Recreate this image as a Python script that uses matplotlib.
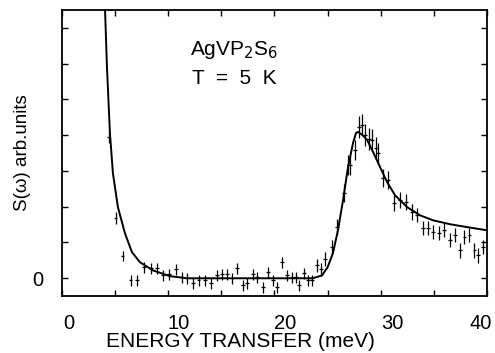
import matplotlib
matplotlib.use("Agg")
import matplotlib.pyplot as plt
import matplotlib.transforms as mtransforms
import numpy as np

plt.rcParams['font.family'] = ['Liberation Sans', 'DejaVu Sans']

# measured data points (energy meV, S(w) arb. units)
energy = [4.42, 5.08, 5.74, 6.49, 7.06, 7.72, 8.38, 8.94, 9.51, 10.07,
          10.73, 11.29, 11.76, 12.33, 12.89, 13.46, 14.02, 14.59, 15.06, 15.53,
          16.0, 16.47, 17.04, 17.41, 17.98, 18.35, 18.92, 19.39, 19.86, 20.24,
          20.71, 21.18, 21.65, 22.02, 22.31, 22.78, 23.15, 23.53, 24.0, 24.38,
          24.75, 25.41, 25.88, 26.54, 26.95, 27.15, 27.58, 27.95, 28.24, 28.52,
          28.89, 29.18, 29.55, 29.74, 30.21, 30.68, 31.25, 31.81, 32.38, 32.94,
          33.41, 33.98, 34.45, 34.92, 35.48, 35.95, 36.52, 36.99, 37.46, 37.84,
          38.31, 38.78, 39.15, 39.62]
intensity = [3.95, 1.68, 0.62, -0.06, -0.06, 0.31, 0.28, 0.28, 0.08, 0.11,
             0.25, 0.03, 0.0, -0.14, -0.06, -0.06, -0.14, 0.08, 0.11, 0.11,
             0.0, 0.28, -0.20, -0.14, 0.11, 0.03, -0.25, 0.17, -0.06, -0.25,
             0.45, 0.08, 0.03, 0.03, -0.20, 0.14, -0.06, -0.06, 0.36, 0.25,
             0.53, 0.87, 1.43, 2.38, 3.17, 3.17, 3.59, 4.23, 4.29, 4.01,
             3.89, 3.87, 3.64, 3.50, 2.80, 2.74, 2.10, 2.18, 2.13, 1.85,
             1.76, 1.40, 1.40, 1.29, 1.26, 1.34, 1.06, 1.20, 0.78, 1.15,
             1.20, 0.78, 0.64, 0.87]
yerr = [0.17, 0.17, 0.15, 0.15, 0.15, 0.15, 0.15, 0.15, 0.15, 0.15,
        0.15, 0.15, 0.15, 0.15, 0.15, 0.15, 0.15, 0.15, 0.15, 0.15,
        0.15, 0.15, 0.15, 0.15, 0.15, 0.15, 0.15, 0.15, 0.15, 0.15,
        0.15, 0.15, 0.15, 0.15, 0.15, 0.15, 0.15, 0.15, 0.18, 0.18,
        0.2, 0.2, 0.22, 0.25, 0.28, 0.28, 0.28, 0.3, 0.3, 0.3,
        0.3, 0.3, 0.3, 0.28, 0.25, 0.25, 0.22, 0.22, 0.22, 0.22,
        0.2, 0.2, 0.2, 0.2, 0.2, 0.2, 0.2, 0.2, 0.2, 0.2,
        0.2, 0.2, 0.2, 0.2]

# fitted curve
fit_e = [4.05, 4.24, 4.52, 4.8, 5.27, 5.93, 6.59, 7.34, 8.57, 10.16,
         11.76, 23.6, 24.47, 25.0, 25.5, 25.97, 26.45, 26.92, 27.39, 27.67,
         27.86, 28.24, 28.71, 29.27, 29.93, 30.59, 31.34, 32.47, 33.69, 34.92,
         36.52, 38.12, 40.0]
fit_s = [7.6, 5.91, 4.06, 2.94, 1.99, 1.26, 0.73, 0.45, 0.22, 0.06,
         0.0, 0.0, 0.08, 0.31, 0.70, 1.34, 2.18, 3.11, 3.78, 4.06,
         4.09, 4.01, 3.87, 3.53, 3.11, 2.69, 2.32, 1.99, 1.76, 1.62,
         1.51, 1.43, 1.34]

xticks_major = [0, 10, 20, 30, 40]
xticks_minor = [5, 15, 25, 35]
yticks = [0, 1, 2, 3, 4, 5, 6, 7]

fig = plt.figure(figsize=(4.95, 3.53), dpi=100)
ax = fig.add_axes([0.125, 0.161, 0.859, 0.811])

ax.plot(fit_e, fit_s, color='black', lw=1.4, zorder=3)
ax.errorbar(energy, intensity, yerr=yerr, xerr=0.15, fmt='none',
            ecolor='black', elinewidth=0.9, capsize=0, zorder=2)

ax.set_xlim(0, 40)
ax.set_ylim(-0.5, 7.5)
ax.set_xticks(xticks_major)
ax.set_xticks(xticks_minor, minor=True)
ax.set_yticks(yticks)
ax.set_yticklabels(['0'] + [''] * (len(yticks) - 1))

ax.tick_params(which='both', direction='in', top=True, right=True,
               length=4, width=1, labelsize=14.5, pad=13)
for s in ax.spines.values():
    s.set_linewidth(1.3)

# scanned original has tick labels slightly offset from their ticks
offsets_px = [7, 10, 11, 12, -6]
for lab, dx in zip(ax.get_xticklabels(), offsets_px):
    lab.set_transform(lab.get_transform() +
                      mtransforms.ScaledTranslation(dx / 100, 0, fig.dpi_scale_trans))

ax.set_xlabel('ENERGY TRANSFER (meV)', fontsize=15)
ax.xaxis.set_label_coords(0.42, -0.125)
ax.set_ylabel('S(ω) arb.units', fontsize=13.5)
ax.yaxis.set_label_coords(-0.072, 0.50)

ax.text(0.405, 0.86, 'AgVP$_2$S$_6$', transform=ax.transAxes, fontsize=15,
        ha='center', va='center')
ax.text(0.405, 0.76, 'T  =  5  K', transform=ax.transAxes, fontsize=15,
        ha='center', va='center')

fig.savefig('out.png', dpi=100)
